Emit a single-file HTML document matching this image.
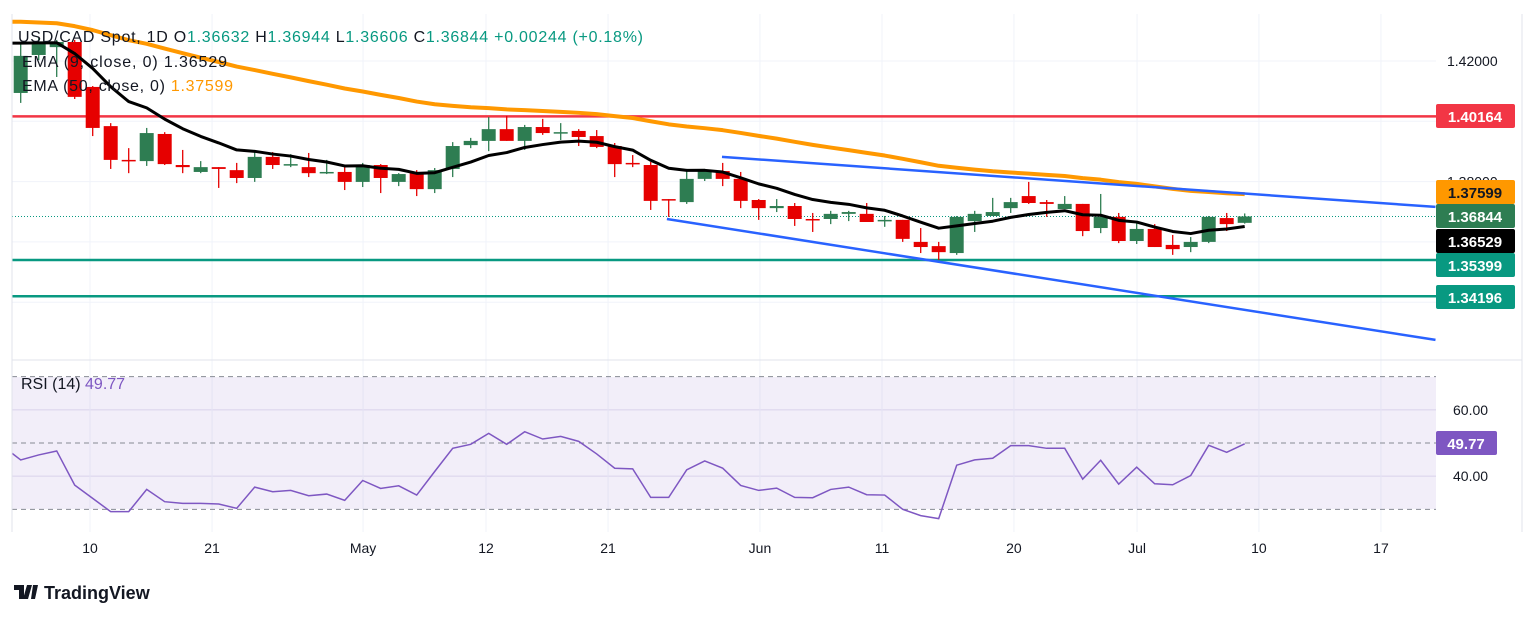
<!DOCTYPE html>
<html><head><meta charset="utf-8">
<style>
html,body{margin:0;padding:0;background:#fff;}
body{width:1536px;height:617px;overflow:hidden;font-family:"Liberation Sans",sans-serif;}
svg text{font-family:"Liberation Sans",sans-serif;}
</style></head>
<body>
<svg id="chart" width="1536" height="617" xmlns="http://www.w3.org/2000/svg">
<rect x="0" y="0" width="1536" height="617" fill="#ffffff"/>
<g id="grid"></g>
<rect x="12" y="377" width="1424" height="132" fill="#7e57c2" fill-opacity="0.1"/>
<g id="levels"></g>
<g id="candles"></g>
<g id="lines"></g>
<g id="rsi"></g>
<g id="axis"></g>
<line x1="12" y1="360" x2="1522" y2="360" stroke="#e0e3eb" stroke-width="1"/>
<line x1="1522" y1="14" x2="1522" y2="532" stroke="#e0e3eb" stroke-width="1"/>
<line x1="12" y1="14" x2="12" y2="532" stroke="#e0e3eb" stroke-width="1"/>
<g font-size="16">
<text x="18" y="42" textLength="625" lengthAdjust="spacing" fill="#131722">USD/CAD Spot, 1D  <tspan fill="#131722">O</tspan><tspan fill="#089981">1.36632</tspan>  <tspan fill="#131722">H</tspan><tspan fill="#089981">1.36944</tspan>  <tspan fill="#131722">L</tspan><tspan fill="#089981">1.36606</tspan>  <tspan fill="#131722">C</tspan><tspan fill="#089981">1.36844</tspan>  <tspan fill="#089981">+0.00244 (+0.18%)</tspan></text>
<text x="22" y="67" textLength="205" lengthAdjust="spacing" fill="#131722">EMA (9, close, 0)  1.36529</text>
<text x="22" y="91" textLength="211" lengthAdjust="spacing" fill="#131722">EMA (50, close, 0)  <tspan fill="#ff9800">1.37599</tspan></text>
<text x="21" y="389" fill="#131722">RSI (14)  <tspan fill="#7e57c2">49.77</tspan></text>
</g>
<g>
<path d="M14 585 h10 v14 h-5 v-9 h-5z M27 585 h5 l-4 14 h-5z M33 585 h5 l-3 14h-4z" fill="#131722"/>
<text x="44" y="599" font-size="18" font-weight="bold" fill="#131722">TradingView</text>
</g>
</svg>
<script>
// ---- data ----
const opens  = [1.4094,1.4220,1.4246,1.4263,1.4114,1.3984,1.3872,1.3868,1.3958,1.3855,1.3832,1.3848,1.3838,1.3812,1.3882,1.3855,1.3848,1.3828,1.3832,1.3799,1.3855,1.3799,1.3828,1.3775,1.3842,1.3921,1.3935,1.3974,1.3935,1.3981,1.3961,1.3968,1.3951,1.3918,1.3862,1.3855,1.3742,1.3732,1.3809,1.3835,1.3809,1.3739,1.3712,1.3719,1.3676,1.3676,1.3693,1.3693,1.3669,1.3673,1.3600,1.3586,1.3563,1.3669,1.3686,1.3712,1.3752,1.3732,1.3709,1.3726,1.3646,1.3683,1.3603,1.3643,1.3590,1.3583,1.3600,1.3679,1.36632];
const highs  = [1.4260,1.4276,1.4270,1.4270,1.4117,1.3994,1.3911,1.3978,1.3964,1.3905,1.3868,1.3848,1.3862,1.3905,1.3898,1.3891,1.3895,1.3872,1.3848,1.3862,1.3858,1.3828,1.3838,1.3845,1.3931,1.3945,1.4014,1.4018,1.3988,1.4008,1.3994,1.3974,1.3971,1.3928,1.3888,1.3865,1.3742,1.3842,1.3842,1.3862,1.3832,1.3742,1.3742,1.3729,1.3696,1.3703,1.3703,1.3729,1.3686,1.3673,1.3646,1.3600,1.3686,1.3703,1.3746,1.3746,1.3799,1.3739,1.3752,1.3726,1.3759,1.3696,1.3666,1.3659,1.3623,1.3616,1.3686,1.3696,1.36944];
const lows   = [1.4061,1.4203,1.4147,1.4074,1.3951,1.3842,1.3828,1.3852,1.3855,1.3828,1.3828,1.3779,1.3795,1.3799,1.3842,1.3848,1.3815,1.3825,1.3772,1.3782,1.3762,1.3785,1.3752,1.3762,1.3815,1.3911,1.3901,1.3935,1.3905,1.3955,1.3938,1.3918,1.3911,1.3815,1.3848,1.3706,1.3683,1.3726,1.3802,1.3785,1.3712,1.3673,1.3699,1.3653,1.3633,1.3659,1.3669,1.3666,1.3650,1.3600,1.3563,1.3540,1.3557,1.3633,1.3686,1.3696,1.3726,1.3683,1.3709,1.3619,1.3629,1.3596,1.3593,1.3583,1.3557,1.3566,1.3596,1.3636,1.36606];
const closes = [1.4217,1.4263,1.4263,1.4081,1.3978,1.3872,1.3868,1.3961,1.3858,1.3848,1.3848,1.3842,1.3812,1.3882,1.3855,1.3858,1.3828,1.3832,1.3799,1.3855,1.3812,1.3825,1.3775,1.3838,1.3918,1.3935,1.3974,1.3935,1.3981,1.3961,1.3964,1.3948,1.3915,1.3858,1.3858,1.3736,1.3739,1.3809,1.3838,1.3809,1.3736,1.3712,1.3719,1.3676,1.3673,1.3693,1.3699,1.3666,1.3673,1.3610,1.3583,1.3566,1.3683,1.3693,1.3699,1.3732,1.3729,1.3726,1.3726,1.3636,1.3683,1.3603,1.3643,1.3583,1.3576,1.3600,1.3683,1.3659,1.36844];
const rsiValues = [44.9,46.4,47.6,37.3,33.3,29.3,29.3,36.0,32.3,31.8,31.8,31.6,30.3,36.7,35.3,35.7,34.1,34.6,32.7,38.7,36.3,37.1,34.3,41.4,48.4,49.6,52.9,49.6,53.4,51.2,52.0,50.5,46.7,42.4,42.2,33.6,33.6,41.9,44.6,42.4,37.2,35.7,36.4,33.6,33.5,36.0,36.7,34.4,34.3,30.0,28.1,27.2,43.3,44.9,45.4,49.2,49.2,48.4,48.4,39.1,44.8,37.6,42.7,37.7,37.4,40.2,49.3,47.2,49.77];
const ema9Seed = 1.4270;
const ema50Seed = 1.4335;
const levelPrices = [1.40164,1.35399,1.34196];
const priceTicks = [1.42,1.40,1.38,1.36,1.34];
const rsiTicks = [60,40];
const rsiDashed = [70,50,30];
const dateTickIdx = [3.85,10.63,19.02,25.85,32.63,41.07,47.85,55.18,62.02,68.79,75.57];
const dateTickLabels = ["10","21","May","12","21","Jun","11","20","Jul","10","17"];
const channelUpper = [[38.96,1.3882],[78.6,1.3716]];
const channelLower = [[35.9,1.3676],[78.6,1.3275]];

// ---- scales ----
const X0=20.7, STEP=18;
function xs(i){return X0+i*STEP;}
function ys(p){return 61+(1.42-p)*3015;}
function yr(r){return 443-(r-50)*3.316;}
const NS="http://www.w3.org/2000/svg";
function mk(tag,attrs,parent){const e=document.createElementNS(NS,tag);for(const k in attrs)e.setAttribute(k,attrs[k]);parent.appendChild(e);return e;}

const grid=document.getElementById('grid');
priceTicks.forEach(p=>{
  const l=mk('line',{x1:12,x2:1436,y1:ys(p),y2:ys(p),stroke:'#f0f3fa','stroke-width':1},grid);
  
  
});
rsiTicks.forEach(r=>{
  const l=mk('line',{x1:12,x2:1436,y1:yr(r),y2:yr(r),stroke:'#e4e0f0','stroke-width':1},grid);
  
  
});
dateTickIdx.forEach(i=>{
  const l=mk('line',{x1:xs(i),x2:xs(i),y1:14,y2:532,stroke:'#f0f3fa','stroke-width':1},grid);
  
  
});

// levels
const lv=document.getElementById('levels');
const levelColors=['#f23645','#089981','#089981'];
levelPrices.forEach((p,k)=>{
  const l=mk('line',{x1:12,x2:1436,y1:ys(p),y2:ys(p),stroke:levelColors[k],'stroke-width':2.5},lv);
  
  
});
const cur=mk('line',{x1:12,x2:1436,y1:ys(closes[closes.length-1]),y2:ys(closes[closes.length-1]),stroke:'#089981','stroke-width':1,'stroke-dasharray':'1 2'},lv);



// candles
const cg=document.getElementById('candles');
for(let i=0;i<closes.length;i++){
  const up=closes[i]>=opens[i];
  const col=up?'#2e7d52':'#e60000';
  const g=mk('g',{},cg);
  
  
  mk('line',{x1:xs(i),x2:xs(i),y1:ys(highs[i]),y2:ys(lows[i]),stroke:col,'stroke-width':1.3},g);
  const top=ys(Math.max(opens[i],closes[i])), bot=ys(Math.min(opens[i],closes[i]));
  mk('rect',{x:xs(i)-7,y:top,width:14,height:Math.max(1.5,bot-top),fill:col},g);
}

// EMAs
function ema(seed,n){const k=2/(n+1);let e=seed;return closes.map(c=>(e=c*k+e*(1-k)));}
const e9=ema(ema9Seed,9), e50=ema(ema50Seed,50);
const ln=document.getElementById('lines');
function poly(vals,col,w,name){
  const pts=[[12,ys(vals[0])]].concat(vals.map((v,i)=>[xs(i),ys(v)]));
  const p=mk('polyline',{points:pts.map(q=>q.join(',')).join(' '),fill:'none',stroke:col,'stroke-width':w,'stroke-linejoin':'round'},ln);
  
  
}
poly(e50,'#ff9800',4,'ema50-line');
poly(e9,'#000000',3,'ema9-line');
[channelUpper,channelLower].forEach((c,k)=>{
  const l=mk('line',{x1:xs(c[0][0]),y1:ys(c[0][1]),x2:xs(c[1][0]),y2:ys(c[1][1]),stroke:'#2962ff','stroke-width':2.5},ln);
  
  
});

// RSI
const rg=document.getElementById('rsi');
rsiDashed.forEach(r=>{
  const l=mk('line',{x1:12,x2:1436,y1:yr(r),y2:yr(r),stroke:'#878b94','stroke-width':1,'stroke-dasharray':'5 4'},rg);
  
  
});
const rp=mk('polyline',{points:[[12,yr(rsiValues[0]+2)]].concat(rsiValues.map((v,i)=>[xs(i),yr(v)])).map(q=>q.join(',')).join(' '),fill:'none',stroke:'#7e57c2','stroke-width':1.5},rg);



// axes
const ax=document.getElementById('axis');
[[1.42,'1.42000'],[1.38,'1.38000']].forEach(t=>{
  const tx=mk('text',{x:1447,y:ys(t[0])+5,'font-size':14,fill:'#131722'},ax);
  tx.textContent=t[1];
  
  
});
rsiTicks.forEach(r=>{
  const tx=mk('text',{x:1453,y:yr(r)+5,'font-size':14,fill:'#131722'},ax);
  tx.textContent=r.toFixed(2);
  
  
});
dateTickIdx.forEach((i,k)=>{
  const tx=mk('text',{x:xs(i),y:553,'font-size':14,fill:'#131722','text-anchor':'middle'},ax);
  tx.textContent=dateTickLabels[k];
  
  
});
const badges=[[1.40164,'#f23645','#fff','1.40164',116],[e50[e50.length-1],'#ff9800','#131722','1.37599',192],[closes[closes.length-1],'#2e7d52','#fff','1.36844',216],[e9[e9.length-1],'#000','#fff','1.36529',241],[1.35399,'#089981','#fff','1.35399',265],[1.34196,'#089981','#fff','1.34196',297]];
badges.forEach(b=>{
  const g=mk('g',{},ax);
  
  
  mk('rect',{x:1436,y:b[4]-12,width:79,height:24,rx:2,fill:b[1]},g);
  const t=mk('text',{x:1475,y:b[4]+6,'font-size':15,'font-weight':'bold',fill:b[2],'text-anchor':'middle'},g);
  t.textContent=b[3];
});
const rb=mk('g',{},ax);


mk('rect',{x:1436,y:431,width:61,height:24,rx:2,fill:'#7e57c2'},rb);
const rt=mk('text',{x:1466,y:449,'font-size':15,'font-weight':'bold',fill:'#fff','text-anchor':'middle'},rb);
rt.textContent='49.77';
</script>
</body></html>
